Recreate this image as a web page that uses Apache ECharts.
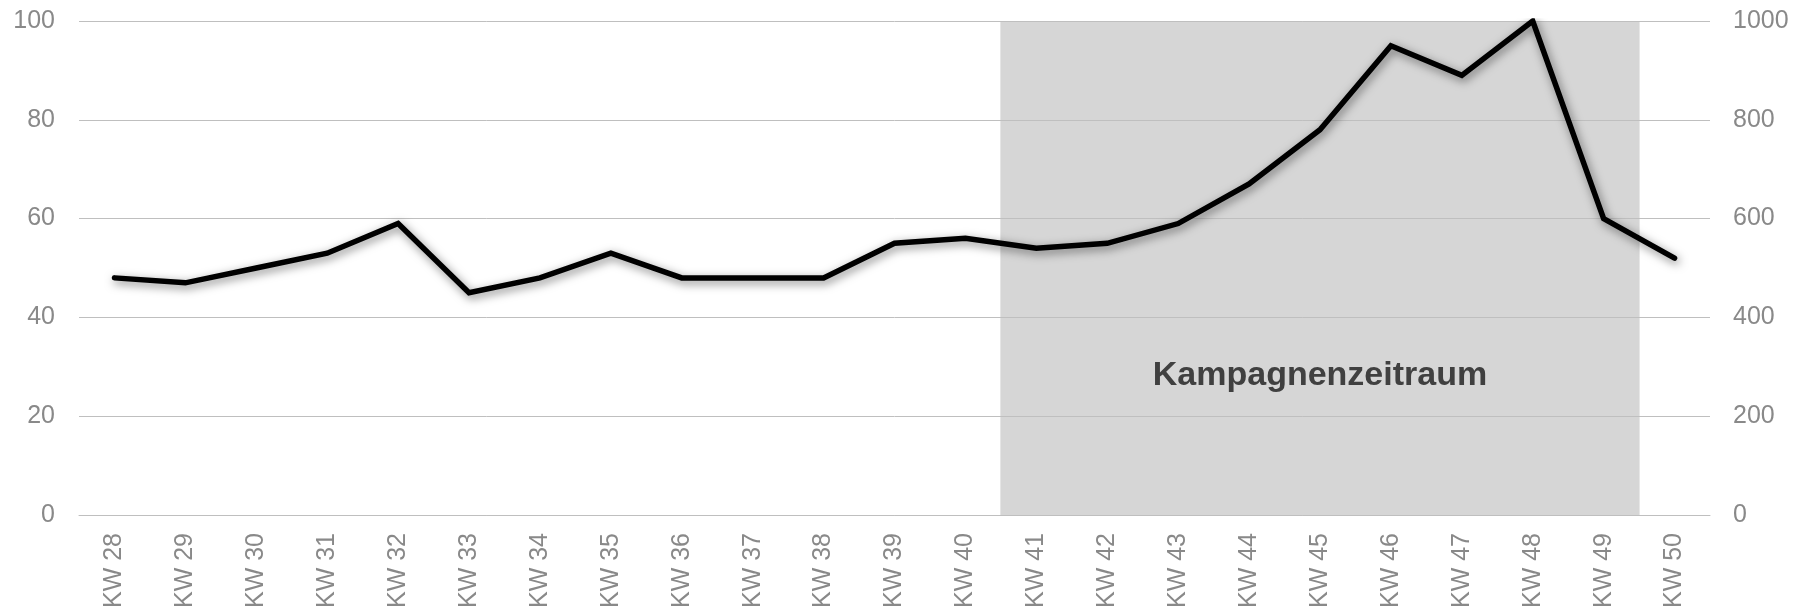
<!DOCTYPE html>
<html>
<head>
<meta charset="utf-8">
<script src="https://cdn.jsdelivr.net/npm/echarts@6/dist/echarts.min.js"></script>
<style>
  html, body { margin: 0; padding: 0; background: #ffffff; }
  #chart { width: 1805px; height: 612px; }
</style>
</head>
<body>
<div id="chart"></div>
<script>
// Calendar weeks on the category axis
const weeks = ['KW 28', 'KW 29', 'KW 30', 'KW 31', 'KW 32', 'KW 33', 'KW 34', 'KW 35',
  'KW 36', 'KW 37', 'KW 38', 'KW 39', 'KW 40', 'KW 41', 'KW 42', 'KW 43', 'KW 44',
  'KW 45', 'KW 46', 'KW 47', 'KW 48', 'KW 49', 'KW 50'];

// Weekly index value (left axis, 0–100)
const indexValues = [48, 47, 50, 53, 59, 45, 48, 53, 48, 48, 48, 55, 56, 54, 55, 59, 67,
  78, 95, 89, 100, 60, 52];

// Campaign period KW 41 – KW 49 as full-height columns on the right axis
const campaign = ['-', '-', '-', '-', '-', '-', '-', '-', '-', '-', '-', '-', '-',
  1000, 1000, 1000, 1000, 1000, 1000, 1000, 1000, 1000, '-'];
const campaignLabel = 'Kampagnenzeitraum';

// Axis ticks
const leftTicks = { min: 0, max: 100, interval: 20 };
const rightTicks = { min: 0, max: 1000, interval: 200 };

const fontFamily = '"Liberation Sans", Arial, sans-serif';
const labelColor = '#898989';
const gridColor = '#bfbfbf';
const shadeColor = '#d6d6d6';

const chart = echarts.init(document.getElementById('chart'), null, { renderer: 'canvas' });

// Full-band columns, widened by one pixel so neighbouring weeks merge without seams
function renderCampaignColumn(params, api) {
  const v = api.value(1);
  if (v === '-' || v == null || isNaN(v)) return null;
  const top = api.coord([api.value(0), v]);
  const base = api.coord([api.value(0), 0]);
  const band = api.size([1, 0])[0];
  return {
    type: 'rect',
    shape: { x: top[0] - band / 2 - 0.5, y: top[1], width: band + 1, height: base[1] - top[1] },
    style: { fill: shadeColor }
  };
}

chart.setOption({
  animation: false,
  backgroundColor: '#ffffff',
  grid: { left: 79, right: 95, top: 21, bottom: 97, containLabel: false },
  xAxis: {
    type: 'category',
    data: weeks,
    boundaryGap: true,
    axisLine: { show: true, lineStyle: { color: gridColor, width: 1 } },
    axisTick: { show: false },
    axisLabel: {
      rotate: 90,
      margin: 18,
      color: labelColor,
      fontFamily: fontFamily,
      fontSize: 25,
      interval: 0
    }
  },
  yAxis: [
    {
      type: 'value',
      position: 'left',
      min: leftTicks.min, max: leftTicks.max, interval: leftTicks.interval,
      z: 3,
      axisLine: { show: false },
      axisTick: { show: false },
      splitLine: { show: true, lineStyle: { color: gridColor, width: 1 } },
      axisLabel: { margin: 24, color: labelColor, fontFamily: fontFamily, fontSize: 25 }
    },
    {
      type: 'value',
      position: 'right',
      min: rightTicks.min, max: rightTicks.max, interval: rightTicks.interval,
      axisLine: { show: false },
      axisTick: { show: false },
      splitLine: { show: false },
      axisLabel: {
        margin: 23, color: labelColor, fontFamily: fontFamily, fontSize: 25,
        formatter: v => String(v)
      }
    }
  ],
  series: [
    {
      name: campaignLabel,
      type: 'custom',
      yAxisIndex: 1,
      data: campaign.map((v, i) => [i, v]),
      renderItem: renderCampaignColumn,
      z: 1,
      silent: true
    },
    {
      name: 'Index',
      type: 'line',
      yAxisIndex: 0,
      data: indexValues,
      showSymbol: false,
      symbol: 'none',
      z: 5,
      lineStyle: {
        color: '#000000',
        width: 5.5,
        join: 'miter',
        cap: 'round',
        shadowColor: 'rgba(0,0,0,0.5)',
        shadowBlur: 10,
        shadowOffsetX: 2,
        shadowOffsetY: 3
      }
    }
  ]
});

// Campaign caption centred over the shaded column block
const firstIdx = campaign.findIndex(v => v !== '-');
let lastIdx = firstIdx;
campaign.forEach((v, i) => { if (v !== '-') lastIdx = i; });
const xStart = chart.convertToPixel({ xAxisIndex: 0 }, weeks[firstIdx]);
const xEnd = chart.convertToPixel({ xAxisIndex: 0 }, weeks[lastIdx]);
const yCaption = chart.convertToPixel({ yAxisIndex: 0 }, 28.2);

chart.setOption({
  graphic: [{
    type: 'text',
    x: (xStart + xEnd) / 2,
    y: yCaption,
    z: 10,
    style: {
      text: campaignLabel,
      fill: '#404040',
      font: 'bold 34px "Liberation Sans", Arial, sans-serif',
      align: 'center',
      verticalAlign: 'middle'
    }
  }]
});
</script>
</body>
</html>
